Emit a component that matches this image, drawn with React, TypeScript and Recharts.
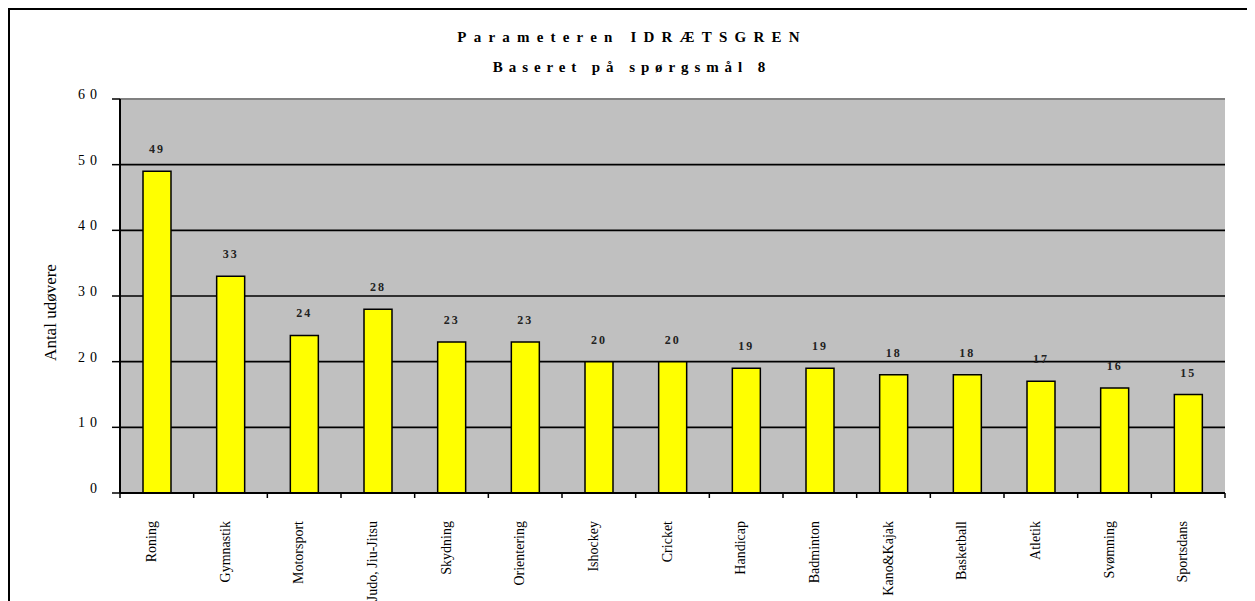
import { BarChart, Bar, XAxis, YAxis, CartesianGrid, LabelList, ReferenceLine } from 'recharts';

const SPORTS = [
  'Roning',
  'Gymnastik',
  'Motorsport',
  'Judo, Jiu-Jitsu',
  'Skydning',
  'Orientering',
  'Ishockey',
  'Cricket',
  'Handicap',
  'Badminton',
  'Kano&Kajak',
  'Basketball',
  'Atletik',
  'Svømning',
  'Sportsdans',
];
const UDOVERE = [49, 33, 24, 28, 23, 23, 20, 20, 19, 19, 18, 18, 17, 16, 15];
const Y_TICKS = [0, 10, 20, 30, 40, 50, 60];

const TITLE = 'Parameteren IDRÆTSGREN';
const SUBTITLE = 'Baseret på spørgsmål 8';
const Y_LABEL = 'Antal udøvere';

const FONT = '"Liberation Serif", "Times New Roman", serif';
const CHART_W = 1230;
const CHART_H = 591;
const MARGIN = { top: 89, right: 15, bottom: 0, left: 0 };
const PLOT_W = CHART_W - MARGIN.right - 110;

const data = SPORTS.map((name, i) => ({ name, value: UDOVERE[i] }));

// category ticks: label rotated, tick marks on band edges
function SportTick(props: any) {
  const { x, y, payload, index, visibleTicksCount } = props;
  const half = payload?.offset ?? PLOT_W / SPORTS.length / 2;
  const last = index === visibleTicksCount - 1;
  const tx = x - 1;
  const ty = y + 23;
  return (
    <g>
      <line x1={x - half} x2={x - half} y1={y - 5} y2={y} stroke="#000" strokeWidth={1.5} />
      {last && <line x1={x + half} x2={x + half} y1={y - 5} y2={y} stroke="#000" strokeWidth={1.5} />}
      <text
        x={tx}
        y={ty}
        transform={`rotate(-90, ${tx}, ${ty})`}
        textAnchor="end"
        fontFamily={FONT}
        fontSize={14}
        fill="#000"
      >
        {payload.value}
      </text>
    </g>
  );
}

function ValueTick(props: any) {
  const { x, y, payload } = props;
  return (
    <text
      x={x - 10}
      y={y}
      textAnchor="end"
      fontFamily={FONT}
      fontSize={14}
      fill="#000"
      style={{ letterSpacing: '5px' }}
    >
      {payload.value}
    </text>
  );
}

function BarValue(props: any) {
  const { x, y, width, value } = props;
  return (
    <text
      x={x + width / 2}
      y={y - 18}
      textAnchor="middle"
      fontFamily={FONT}
      fontSize={12}
      fontWeight="bold"
      fill="#222"
      style={{ letterSpacing: '2px' }}
    >
      {value}
    </text>
  );
}

export default function App() {
  return (
    <div
      style={{
        position: 'relative',
        width: 1247,
        height: CHART_H,
        borderTop: '2px solid #000',
        borderLeft: '2px solid #000',
        fontFamily: FONT,
      }}
    >
      <style>{'html,body{overflow:hidden}'}</style>
      <div
        style={{
          position: 'absolute',
          left: 0,
          top: 20,
          width: 1244,
          textAlign: 'center',
          fontSize: 15,
          lineHeight: '15px',
          fontWeight: 'bold',
          letterSpacing: '7.2px',
          whiteSpace: 'nowrap',
        }}
      >
        {TITLE}
      </div>
      <div
        style={{
          position: 'absolute',
          left: 0,
          top: 50,
          width: 1244,
          textAlign: 'center',
          fontSize: 15,
          lineHeight: '15px',
          fontWeight: 'bold',
          letterSpacing: '5.9px',
          whiteSpace: 'nowrap',
        }}
      >
        {SUBTITLE}
      </div>
      <div
        style={{
          position: 'absolute',
          left: 39.6 - 100,
          top: 302 - 8.5,
          width: 200,
          height: 17,
          textAlign: 'center',
          fontSize: 17,
          lineHeight: '17px',
          whiteSpace: 'nowrap',
          transform: 'rotate(-90deg)',
        }}
      >
        {Y_LABEL}
      </div>
      <BarChart width={CHART_W} height={CHART_H} data={data} margin={MARGIN}>
        <CartesianGrid
          vertical={false}
          stroke="#000"
          strokeWidth={1.7}
          fill="#C0C0C0"
          fillOpacity={1}
        />
        <XAxis
          dataKey="name"
          interval={0}
          height={CHART_H - MARGIN.top - 394}
          tickLine={false}
          tickSize={5}
          tickMargin={0}
          axisLine={{ stroke: '#000', strokeWidth: 2 }}
          tick={<SportTick />}
        />
        <YAxis
          width={110}
          domain={[0, 60]}
          ticks={Y_TICKS}
          interval={0}
          tickSize={8}
          tickMargin={0}
          tickLine={{ stroke: '#000', strokeWidth: 1.5 }}
          axisLine={{ stroke: '#000', strokeWidth: 2 }}
          tick={<ValueTick />}
        />
        <YAxis
          yAxisId="frame"
          orientation="right"
          width={0}
          tick={false}
          tickLine={false}
          axisLine={{ stroke: '#808080', strokeWidth: 2 }}
        />
        <Bar
          dataKey="value"
          fill="#FFFF00"
          stroke="#000"
          strokeWidth={1.5}
          barSize={28}
          isAnimationActive={false}
        >
          <LabelList dataKey="value" content={<BarValue />} />
        </Bar>
        <ReferenceLine y={60} stroke="#808080" strokeWidth={2} />
      </BarChart>
    </div>
  );
}
